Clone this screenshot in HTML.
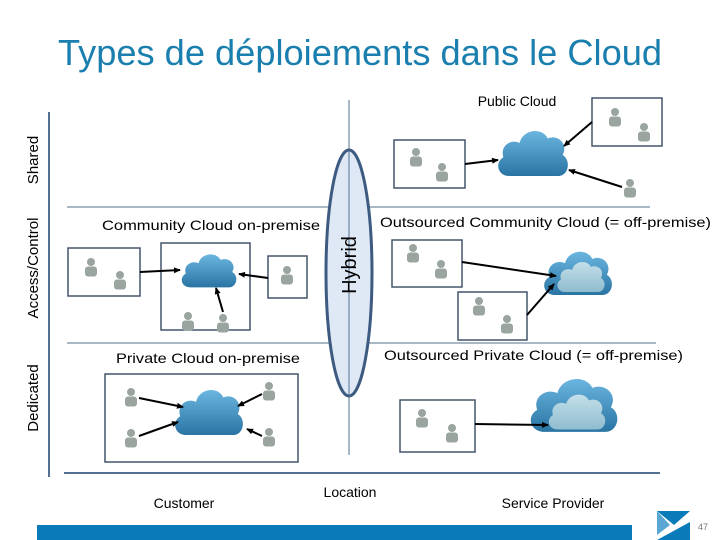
<!DOCTYPE html>
<html><head><meta charset="utf-8"><style>
html,body{margin:0;padding:0;background:#fff;}
svg{display:block;font-family:"Liberation Sans",sans-serif;}
</style></head><body>
<svg width="720" height="540" viewBox="0 0 720 540" xmlns="http://www.w3.org/2000/svg">
<defs>
<linearGradient id="cg" x1="0" y1="0" x2="0" y2="1">
<stop offset="0" stop-color="#6bb6e0"/><stop offset="1" stop-color="#2a74a4"/></linearGradient>
<linearGradient id="cg2" x1="0" y1="0" x2="0" y2="1">
<stop offset="0" stop-color="#c4dfe9"/><stop offset="1" stop-color="#8fbccf"/></linearGradient>
<path id="cloud" d="M18,68 C2,68 -2,50 10,43 C5,28 20,18 32,24 C36,6 62,2 70,18 C84,12 98,26 90,40 C102,47 98,68 84,68 Z"/>
<g id="u"><circle cx="0" cy="-6" r="4" fill="#9aa59f"/><rect x="-6" y="-1.5" width="12" height="10" rx="3" fill="#9aa59f"/></g>
<marker id="ar" markerWidth="8" markerHeight="8" refX="6" refY="3" orient="auto" markerUnits="userSpaceOnUse"><path d="M0,0 L7,3 L0,6 Z" fill="#000"/></marker>
</defs>

<text x="360" y="65" text-anchor="middle" font-size="36" fill="#1a7fae" textLength="604" lengthAdjust="spacingAndGlyphs">Types de déploiements dans le Cloud</text>

<!-- axes -->
<line x1="49" y1="112" x2="49" y2="477" stroke="#52708f" stroke-width="2"/>
<line x1="64" y1="473" x2="660" y2="473" stroke="#52708f" stroke-width="2"/>
<line x1="67" y1="207" x2="650" y2="207" stroke="#52708f" stroke-width="1"/>
<line x1="67" y1="343" x2="656" y2="343" stroke="#52708f" stroke-width="1"/>
<line x1="349" y1="100" x2="349" y2="455" stroke="#52708f" stroke-width="1"/>

<g font-size="15" fill="#000">
<text transform="translate(38,160) rotate(-90)" text-anchor="middle">Shared</text>
<text transform="translate(38,268) rotate(-90)" text-anchor="middle">Access/Control</text>
<text transform="translate(38,398) rotate(-90)" text-anchor="middle">Dedicated</text>
</g>

<!-- hybrid -->
<ellipse cx="349" cy="273" rx="23" ry="123" fill="#dfe8f5" stroke="#3d5a80" stroke-width="3"/>
<line x1="349" y1="150" x2="349" y2="397" stroke="#52708f" stroke-width="1"/>
<text transform="translate(356,265) rotate(-90)" text-anchor="middle" font-size="20">Hybrid</text>

<g font-size="14" fill="#000">
<text x="517" y="106" text-anchor="middle">Public Cloud</text>
<text x="211" y="230" text-anchor="middle" textLength="218" lengthAdjust="spacingAndGlyphs">Community Cloud on-premise</text>
<text x="380" y="227" textLength="331" lengthAdjust="spacingAndGlyphs">Outsourced Community Cloud (= off-premise)</text>
<text x="208" y="363" text-anchor="middle" textLength="184" lengthAdjust="spacingAndGlyphs">Private Cloud on-premise</text>
<text x="384" y="360" textLength="299" lengthAdjust="spacingAndGlyphs">Outsourced Private Cloud (= off-premise)</text>
<text x="184" y="508" text-anchor="middle">Customer</text>
<text x="350" y="497" text-anchor="middle">Location</text>
<text x="553" y="508" text-anchor="middle">Service Provider</text>
</g>

<g fill="#fff" stroke="#44556b" stroke-width="1.5">
<rect x="68" y="248" width="72" height="48"/>
<rect x="161" y="243" width="89" height="87"/>
<rect x="268" y="256" width="39" height="42"/>
<rect x="394" y="140" width="71" height="48"/>
<rect x="592" y="98" width="70" height="48"/>
<rect x="392" y="240" width="70" height="47"/>
<rect x="458" y="292" width="69" height="48"/>
<rect x="105" y="374" width="193" height="88"/>
<rect x="400" y="400" width="75" height="52"/>
</g>

<!-- clouds -->
<use href="#cloud" fill="url(#cg)" transform="translate(180,250) scale(0.58,0.55)"/>
<use href="#cloud" fill="url(#cg)" transform="translate(496,125) scale(0.74,0.75)"/>
<use href="#cloud" fill="url(#cg)" transform="translate(542,246) scale(0.72,0.72)"/>
<use href="#cloud" fill="url(#cg2)" transform="translate(556,258) scale(0.50,0.50)"/>
<use href="#cloud" fill="url(#cg)" transform="translate(173,384) scale(0.72,0.75)"/>
<use href="#cloud" fill="url(#cg)" transform="translate(528,372) scale(0.92,0.88)"/>
<use href="#cloud" fill="url(#cg2)" transform="translate(547,390) scale(0.60,0.58)"/>

<!-- users -->
<use href="#u" x="91" y="268"/><use href="#u" x="120" y="281"/>
<use href="#u" x="188" y="322"/><use href="#u" x="223" y="324"/>
<use href="#u" x="287" y="276"/>
<use href="#u" x="416" y="158"/><use href="#u" x="442" y="173"/>
<use href="#u" x="615" y="118"/><use href="#u" x="644" y="133"/>
<use href="#u" x="630" y="189"/>
<use href="#u" x="413" y="254"/><use href="#u" x="441" y="270"/>
<use href="#u" x="479" y="307"/><use href="#u" x="507" y="325"/>
<use href="#u" x="131" y="398"/><use href="#u" x="131" y="439"/>
<use href="#u" x="269" y="392"/><use href="#u" x="269" y="438"/>
<use href="#u" x="422" y="419"/><use href="#u" x="452" y="434"/>

<!-- arrows -->
<g stroke="#000" stroke-width="2" marker-end="url(#ar)">
<line x1="140" y1="272" x2="180" y2="270"/>
<line x1="268" y1="278" x2="239" y2="274"/>
<line x1="223" y1="312" x2="216" y2="288"/>
<line x1="465" y1="164" x2="498" y2="160"/>
<line x1="592" y1="122" x2="564" y2="146"/>
<line x1="622" y1="187" x2="569" y2="170"/>
<line x1="462" y1="262" x2="556" y2="276"/>
<line x1="527" y1="315" x2="554" y2="284"/>
<line x1="139" y1="398" x2="183" y2="407"/>
<line x1="139" y1="436" x2="178" y2="422"/>
<line x1="262" y1="394" x2="238" y2="406"/>
<line x1="262" y1="436" x2="247" y2="429"/>
<line x1="475" y1="424" x2="548" y2="425"/>
</g>

<!-- footer -->
<rect x="37" y="525" width="595" height="15" fill="#0a7ab8"/>
<path d="M657,511 L690,511 L674,525 Z" fill="#0a7ab8"/>
<path d="M657,540 L690,540 L690,522 Z" fill="#0a7ab8"/>
<path d="M657,511 L670,525 L657,535 Z" fill="#5aa7d3"/>
<text x="703" y="530" font-size="9" fill="#777" text-anchor="middle">47</text>
</svg>
</body></html>
